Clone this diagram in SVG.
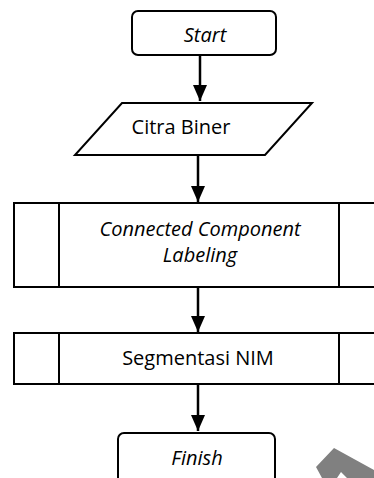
<svg xmlns="http://www.w3.org/2000/svg" width="374" height="478" viewBox="0 0 374 478">
<defs>
<style>
.s{fill:#fff;stroke:#000;stroke-width:2}
.l{stroke:#000;stroke-width:2}
.c{stroke:#000;stroke-width:2.5;fill:none}
.t{font-family:"Open Sans",sans-serif;font-size:20px;fill:#000;text-anchor:middle}
.i{font-style:italic}
</style>
<marker id="ah" markerUnits="userSpaceOnUse" markerWidth="18" markerHeight="14" refX="16" refY="7" orient="auto">
<path d="M0,0 L16,7 L0,14 Z" fill="#000"/>
</marker>
</defs>
<rect width="374" height="478" fill="#fff"/>
<g id="connectors">
<line class="c" x1="200" y1="56" x2="200" y2="101" marker-end="url(#ah)"/>
<line class="c" x1="198" y1="156" x2="198" y2="202" marker-end="url(#ah)"/>
<line class="c" x1="198" y1="288" x2="198" y2="332" marker-end="url(#ah)"/>
<line class="c" x1="198" y1="385" x2="198" y2="431" marker-end="url(#ah)"/>
</g>
<g id="start">
<rect class="s" x="132" y="11" width="144" height="44" rx="6"/>
<text class="t i" x="205" y="42">Start</text>
</g>
<g id="citra">
<polygon class="s" points="122,103 312,103 265,155 75,155"/>
<text class="t" x="181" y="134">Citra Biner</text>
</g>
<g id="ccl">
<rect class="s" x="14" y="203" width="372" height="84"/>
<line class="l" x1="59" y1="203" x2="59" y2="287"/>
<line class="l" x1="339" y1="203" x2="339" y2="287"/>
<text class="t i" x="200" y="236">Connected Component</text>
<text class="t i" x="200" y="262">Labeling</text>
</g>
<g id="segmentasi">
<rect class="s" x="14" y="333" width="372" height="51"/>
<line class="l" x1="59" y1="333" x2="59" y2="384"/>
<line class="l" x1="339" y1="333" x2="339" y2="384"/>
<text class="t" x="198" y="365">Segmentasi NIM</text>
</g>
<g id="finish">
<rect class="s" x="118" y="433" width="157" height="60" rx="6"/>
<text class="t i" x="197" y="465">Finish</text>
</g>
<polygon points="334,448 374,470 374,478 347,478 341,472 337,478 322,478 316,467" fill="#808080"/>
</svg>
